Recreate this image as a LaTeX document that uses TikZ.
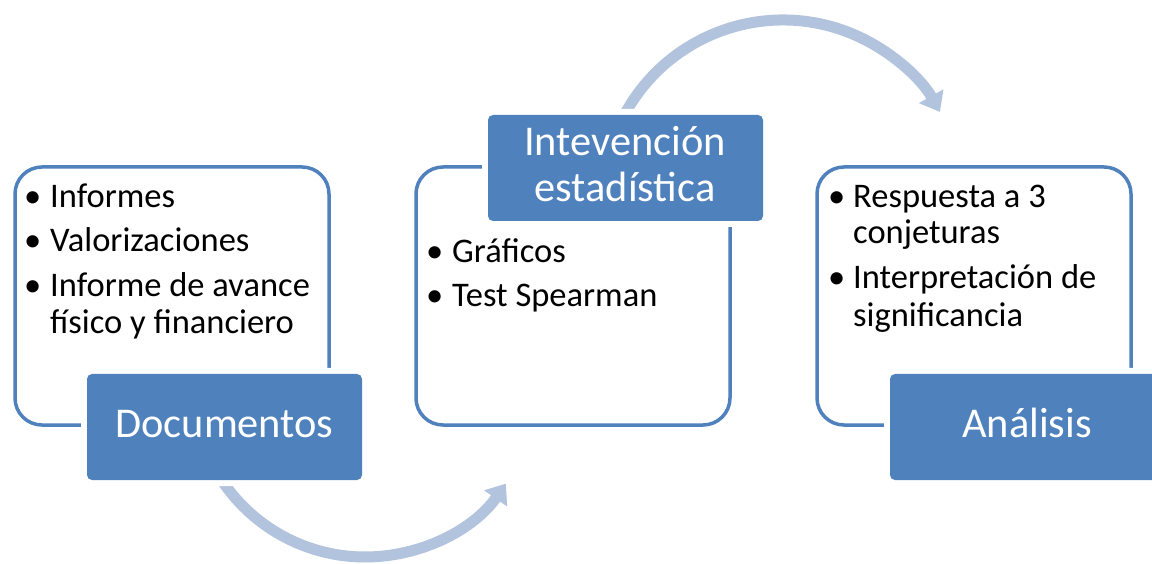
\documentclass[tikz,border=0pt]{standalone}
\usepackage{fontspec}
\setmainfont{Carlito}
\usetikzlibrary{arrows.meta,calc}
\definecolor{accblue}{HTML}{4F81BD}
\definecolor{arrowblue}{RGB}{178,195,222}
\begin{document}
\begin{tikzpicture}[x=1pt,y=1pt,
  panel/.style={draw=accblue, line width=3.5pt, rounded corners=27pt, inner sep=0pt, outer sep=0pt,
    minimum width=314pt, minimum height=258pt, anchor=north west},
  tab/.style={fill=accblue, rounded corners=5pt, inner sep=0pt, outer sep=0pt,
    minimum width=275pt, minimum height=106pt, anchor=north west,
    preaction={draw=white, line width=12pt, rounded corners=5pt}},
  flow/.style={draw=arrowblue, line width=11pt, -{Triangle[length=18pt,width=27pt]}},
  itemtext/.style={anchor=base west, inner sep=0pt, font=\fontsize{34.5}{40}\selectfont},
  bul/.style={anchor=base west, inner sep=0pt, font=\fontsize{34.5}{40}\selectfont},
  tabtext/.style={anchor=base, inner sep=0pt, text=white, font=\fontsize{42.4}{50}\selectfont}
]
\useasboundingbox (0,0) rectangle (1152,563);
\clip (0,0) rectangle (1152,563);
\fill[white] (0,0) rectangle (1152,563);

% arc centres
\coordinate (c1) at (365,178);
\coordinate (c2) at (783,363);

% curved arrows (behind)
\draw[flow] ($(c1)+(210:172)$) arc[start angle=210, end angle=325, radius=172];
\draw[flow] ($(c2)+(155:180)$) arc[start angle=155, end angle=29.3, radius=180];

% panels
\node[panel] (p1) at (15,396) {};
\node[panel] (p2) at (416,396) {};
\node[panel] (p3) at (817,396) {};

% tabs
\node[tab] (t1) at (87,189) {};
\node[tab] (t2) at (488,448) {};
\node[tab] (t3) at (890,189) {};

% tab labels
\node[tabtext] (l1) at (224.5,125) {Documentos};
\node[tabtext] (l2a) at (625,407) {Intevención};
\node[tabtext] (l2b) at (625,361) {estadística};
\node[tabtext] (l3) at (1027,125) {Análisis};

% left panel items
\node[bul] (b11) at (24,355) {•};
\node[itemtext] (i11) at (50,355) {Informes};
\node[bul] (b12) at (24,311) {•};
\node[itemtext] (i12) at (50,311) {Valorizaciones};
\node[bul] (b13) at (24,266) {•};
\node[itemtext] (i13) at (50,266) {Informe de avance};
\node[itemtext] (i13b) at (50,229) {físico y financiero};

% middle panel items
\node[bul] (b21) at (426,300) {•};
\node[itemtext] (i21) at (452,300) {Gráficos};
\node[bul] (b22) at (426,256) {•};
\node[itemtext] (i22) at (452,256) {Test Spearman};

% right panel items
\node[bul] (b31) at (828,355) {•};
\node[itemtext] (i31) at (853,355) {Respuesta a 3};
\node[itemtext] (i31b) at (853,319) {conjeturas};
\node[bul] (b32) at (828,274) {•};
\node[itemtext] (i32) at (853,274) {Interpretación de};
\node[itemtext] (i32b) at (853,236) {significancia};
\end{tikzpicture}
\end{document}
